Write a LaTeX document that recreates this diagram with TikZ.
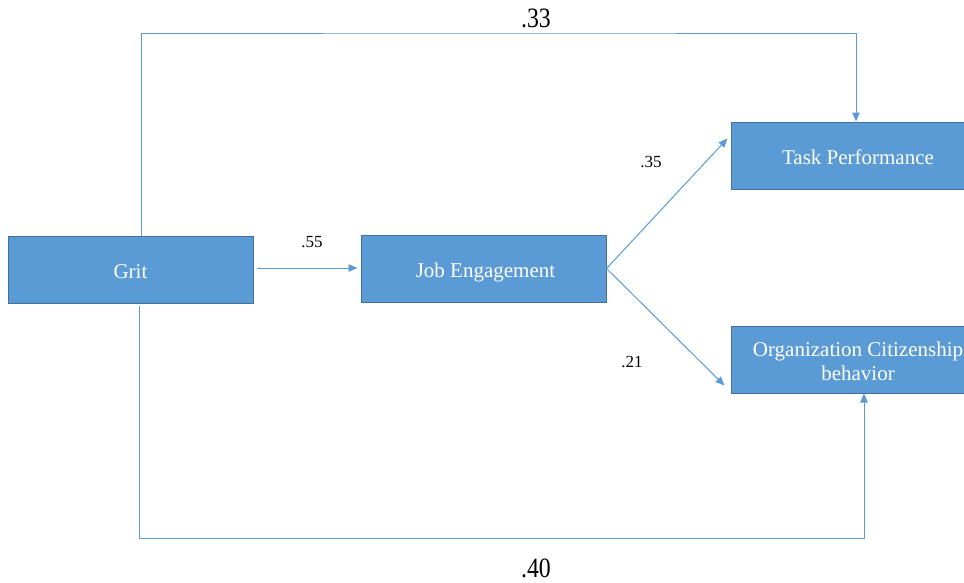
\documentclass[tikz,border=0pt]{standalone}
\usepackage{fontspec}
\setmainfont{Liberation Serif}
\usetikzlibrary{arrows.meta}
\definecolor{boxfill}{HTML}{5B9BD5}
\definecolor{boxline}{HTML}{41719C}
\definecolor{conncol}{HTML}{5B9BD5}
\newcommand{\boxtext}[1]{\raisebox{-4.5pt}[\height][\depth]{\begin{tabular}{@{}c@{}}#1\end{tabular}}}
\tikzset{
  varbox/.style={draw=boxline, line width=1pt, fill=boxfill, text=white,
    minimum width=245pt, minimum height=67pt, inner sep=0pt,
    font=\fontsize{21}{24}\selectfont, align=center},
  conn/.style={draw=conncol, line width=1pt, -{Triangle[length=9pt,width=7.5pt]}},
  coef/.style={font=\fontsize{17}{20}\selectfont, inner sep=0pt},
  bigcoef/.style={font=\fontsize{28}{30}\selectfont, inner sep=0pt, xscale=0.85}
}
\begin{document}
\begin{tikzpicture}[x=1pt,y=-1pt]
\clip (0,0) rectangle (964,582);
\fill[white] (0,0) rectangle (964,582);
\node[varbox] (Grit) at (130.5,269.5) {\boxtext{Grit}};
\node[varbox] (JE) at (483.5,268.5) {\boxtext{\hspace*{4pt}Job Engagement}};
\node[varbox] (TP) at (853.5,155.5) {\boxtext{\hspace*{9pt}Task Performance}};
\node[varbox] (OCB) at (853.5,359.5) {\boxtext{\hspace*{9pt}Organization Citizenship\\\hspace*{9pt}behavior}};
\coordinate (top) at (500,33);
\coordinate (bot) at (500,538);
\draw[conn] ([xshift=3pt,yshift=1.5pt]Grit.east) -- ([xshift=-3pt,yshift=0.5pt]JE.west);
\draw[conn] (JE.east) -- ([xshift=-3pt,yshift=-17pt]TP.north west);
\draw[conn] (JE.east) -- ([xshift=-6pt,yshift=8pt]OCB.south west);
\draw[conn] ([xshift=10.5pt]Grit.north) |- (top) -| ([xshift=2.5pt]TP.north);
\draw[conn] ([xshift=8.5pt,yshift=-2pt]Grit.south) |- (bot) -| ([xshift=10.5pt]OCB.south);
\node[coef] (l55) at (312,242) {.55};
\node[coef] (l35) at (651,162) {.35};
\node[coef] (l21) at (632,362) {.21};
\node[bigcoef] (l33) at (536,18) {.33};
\node[bigcoef] (l40) at (536,568) {.40};
\end{tikzpicture}
\end{document}
